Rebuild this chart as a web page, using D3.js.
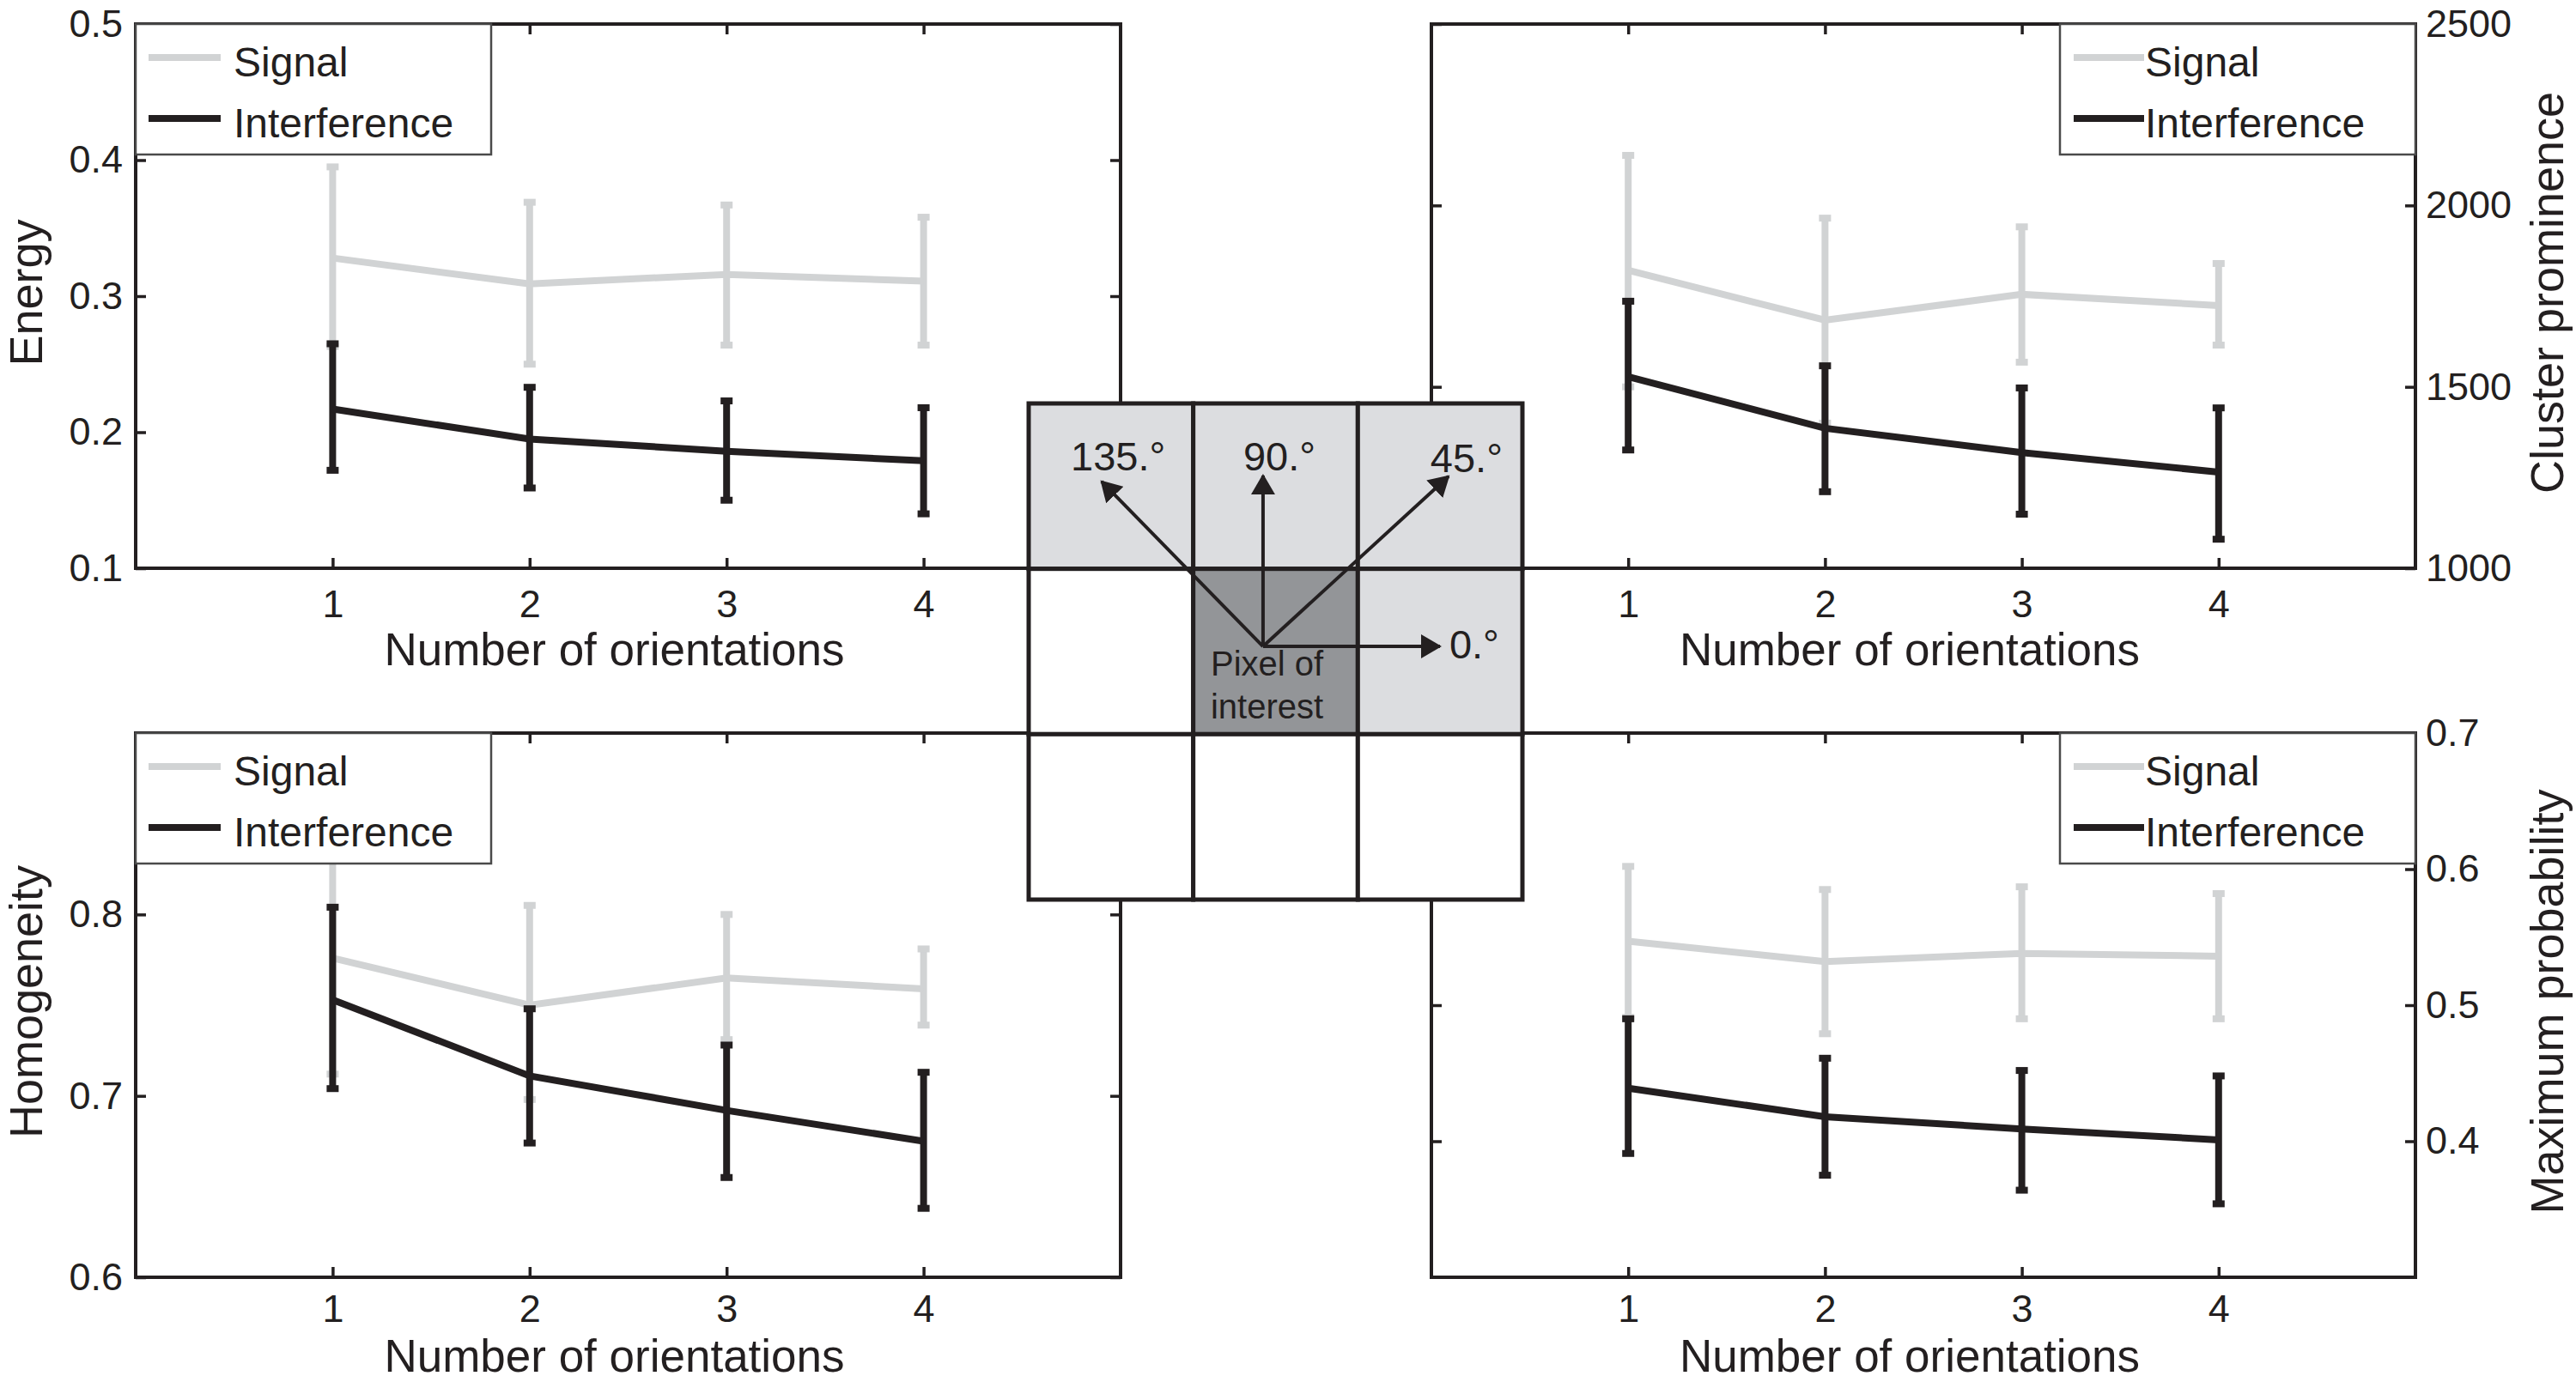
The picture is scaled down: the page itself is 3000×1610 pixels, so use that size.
<!DOCTYPE html>
<html>
<head>
<meta charset="utf-8">
<script src="https://cdn.jsdelivr.net/npm/d3@7"></script>
<style>
  body { margin: 0; background: #ffffff; }
  text { font-family: "Liberation Sans", Arial, Helvetica, sans-serif; }
</style>
</head>
<body>
<script>
// Number of orientations on every x axis
const orientations = [1, 2, 3, 4];
const xTicks = [1, 2, 3, 4];
const seriesNames = ['Signal', 'Interference'];

// Energy (top left)
const energySignal = [0.328, 0.309, 0.316, 0.311];
const energySignalLow = [0.263, 0.250, 0.264, 0.264];
const energySignalHigh = [0.395, 0.369, 0.367, 0.358];
const energyInterference = [0.217, 0.195, 0.186, 0.179];
const energyInterferenceLow = [0.172, 0.159, 0.150, 0.140];
const energyInterferenceHigh = [0.265, 0.233, 0.223, 0.218];
const energyTicks = [0.1, 0.2, 0.3, 0.4, 0.5];

// Cluster prominence (top right)
const prominenceSignal = [1821, 1684, 1755, 1724];
const prominenceSignalLow = [1500, 1400, 1568, 1615];
const prominenceSignalHigh = [2138, 1965, 1941, 1840];
const prominenceInterference = [1528, 1386, 1319, 1265];
const prominenceInterferenceLow = [1326, 1211, 1149, 1080];
const prominenceInterferenceHigh = [1736, 1558, 1497, 1442];
const prominenceTicks = [1000, 1500, 2000, 2500];

// Homogeneity (bottom left)
const homogeneitySignal = [0.776, 0.750, 0.765, 0.759];
const homogeneitySignalLow = [0.712, 0.698, 0.731, 0.739];
const homogeneitySignalHigh = [0.840, 0.805, 0.800, 0.781];
const homogeneityInterference = [0.753, 0.711, 0.692, 0.675];
const homogeneityInterferenceLow = [0.704, 0.674, 0.655, 0.638];
const homogeneityInterferenceHigh = [0.804, 0.748, 0.728, 0.713];
const homogeneityTicks = [0.6, 0.7, 0.8];

// Maximum probability (bottom right)
const probabilitySignal = [0.547, 0.532, 0.538, 0.536];
const probabilitySignalLow = [0.491, 0.479, 0.490, 0.490];
const probabilitySignalHigh = [0.602, 0.585, 0.587, 0.582];
const probabilityInterference = [0.439, 0.418, 0.409, 0.401];
const probabilityInterferenceLow = [0.391, 0.375, 0.364, 0.354];
const probabilityInterferenceHigh = [0.490, 0.461, 0.452, 0.448];
const probabilityTicks = [0.4, 0.5, 0.6, 0.7];

// Co-occurrence diagram in the middle
const angleLabels = ['0.°', '45.°', '90.°', '135.°'];
const cellShades = [
    ['light', 'light', 'light'],
    ['white', 'dark', 'light'],
    ['white', 'white', 'white']
];
const centreLabel = ['Pixel of', 'interest'];

// Colours
const signalColour = '#d1d3d4';
const interferenceColour = '#231f20';
const ink = '#231f20';
const shadeColours = { light: '#dcdde0', dark: '#939598', white: '#ffffff' };

const svg = d3.select('body')
    .append('svg')
    .attr('width', 3000)
    .attr('height', 1610);

svg.append('rect')
    .attr('width', 3000)
    .attr('height', 1610)
    .attr('fill', '#ffffff');

// Panel layout
const panels = [
    { label: 'Energy', side: 'left', left: 158, right: 1305, top: 28, bottom: 662, tickPad: 25, titleGap: 113,
      domain: [0.1, 0.5], ticks: energyTicks, format: d3.format('.1f'),
      signal: [energySignal, energySignalLow, energySignalHigh],
      interference: [energyInterference, energyInterferenceLow, energyInterferenceHigh] },
    { label: 'Cluster prominence', side: 'right', left: 1667, right: 2813, top: 28, bottom: 662, tickPad: 25, titleGap: 113,
      domain: [1000, 2500], ticks: prominenceTicks, format: d3.format('d'),
      signal: [prominenceSignal, prominenceSignalLow, prominenceSignalHigh],
      interference: [prominenceInterference, prominenceInterferenceLow, prominenceInterferenceHigh] },
    { label: 'Homogeneity', side: 'left', left: 158, right: 1305, top: 854, bottom: 1488, tickPad: 20, titleGap: 110,
      domain: [0.6, 0.9], ticks: homogeneityTicks, format: d3.format('.1f'),
      signal: [homogeneitySignal, homogeneitySignalLow, homogeneitySignalHigh],
      interference: [homogeneityInterference, homogeneityInterferenceLow, homogeneityInterferenceHigh] },
    { label: 'Maximum probability', side: 'right', left: 1667, right: 2813, top: 854, bottom: 1488, tickPad: 20, titleGap: 110,
      domain: [0.3, 0.7], ticks: probabilityTicks, format: d3.format('.1f'),
      signal: [probabilitySignal, probabilitySignalLow, probabilitySignalHigh],
      interference: [probabilityInterference, probabilityInterferenceLow, probabilityInterferenceHigh] }
];

function styleAxis(axisG) {
    axisG.select('.domain').remove();
    axisG.attr('font-family', '"Liberation Sans", Arial, sans-serif')
        .attr('font-size', 45)
        .attr('color', ink);
    axisG.selectAll('.tick line').attr('stroke-width', 3.5);
}

function drawSeries(g, x, y, values, colour) {
    const [mean, low, high] = values;
    const points = orientations.map((o, i) => ({ o, mean: mean[i], low: low[i], high: high[i] }));

    // Error bars
    g.selectAll(null)
        .data(points)
        .enter()
        .append('line')
        .attr('x1', d => x(d.o))
        .attr('x2', d => x(d.o))
        .attr('y1', d => y(d.low))
        .attr('y2', d => y(d.high))
        .attr('stroke', colour)
        .attr('stroke-width', 8);

    const caps = points.flatMap(d => [{ o: d.o, v: d.low }, { o: d.o, v: d.high }]);
    g.selectAll(null)
        .data(caps)
        .enter()
        .append('rect')
        .attr('x', d => x(d.o) - 7)
        .attr('y', d => y(d.v) - 4)
        .attr('width', 14)
        .attr('height', 8)
        .attr('fill', colour);

    // Mean line
    g.append('path')
        .datum(points)
        .attr('fill', 'none')
        .attr('stroke', colour)
        .attr('stroke-width', 8)
        .attr('d', d3.line().x(d => x(d.o)).y(d => y(d.mean)));
}

function drawPanel(p) {
    const g = svg.append('g');
    const x = d3.scaleLinear().domain([0, 5]).range([p.left, p.right]);
    const y = d3.scaleLinear().domain(p.domain).range([p.bottom, p.top]);

    // Series first, frame and ticks above them
    drawSeries(g, x, y, p.signal, signalColour);
    drawSeries(g, x, y, p.interference, interferenceColour);

    g.append('rect')
        .attr('x', p.left)
        .attr('y', p.top)
        .attr('width', p.right - p.left)
        .attr('height', p.bottom - p.top)
        .attr('fill', 'none')
        .attr('stroke', ink)
        .attr('stroke-width', 4);

    // Box ticks pointing inwards on all four sides
    const bottomAxis = g.append('g')
        .attr('transform', `translate(0,${p.bottom})`)
        .call(d3.axisBottom(x).tickValues(xTicks).tickFormat(d3.format('d'))
            .tickSizeInner(-12).tickSizeOuter(0).tickPadding(p.tickPad));
    styleAxis(bottomAxis);

    const topAxis = g.append('g')
        .attr('transform', `translate(0,${p.top})`)
        .call(d3.axisTop(x).tickValues(xTicks).tickSizeInner(-12).tickSizeOuter(0).tickFormat(''));
    styleAxis(topAxis);

    const leftAxis = g.append('g')
        .attr('transform', `translate(${p.left},0)`)
        .call(d3.axisLeft(y).tickValues(p.ticks).tickSizeInner(-12).tickSizeOuter(0).tickPadding(15)
            .tickFormat(p.side === 'left' ? p.format : ''));
    styleAxis(leftAxis);

    const rightAxis = g.append('g')
        .attr('transform', `translate(${p.right},0)`)
        .call(d3.axisRight(y).tickValues(p.ticks).tickSizeInner(-12).tickSizeOuter(0).tickPadding(12)
            .tickFormat(p.side === 'right' ? p.format : ''));
    styleAxis(rightAxis);

    // Axis titles
    g.append('text')
        .attr('x', (p.left + p.right) / 2 - 16)
        .attr('y', p.bottom + p.titleGap)
        .attr('text-anchor', 'middle')
        .attr('font-size', 53)
        .attr('fill', ink)
        .text('Number of orientations');

    const labelX = p.side === 'left' ? 49 : 2985;
    g.append('text')
        .attr('transform', `translate(${labelX},${(p.top + p.bottom) / 2 - 4}) rotate(-90)`)
        .attr('text-anchor', 'middle')
        .attr('font-size', 54)
        .attr('fill', ink)
        .text(p.label);

    // Legend box in the corner next to the value axis
    const legendW = 414, legendH = 152;
    const lx = p.side === 'left' ? p.left : p.right - legendW;
    const legend = g.append('g');
    legend.append('rect')
        .attr('x', lx)
        .attr('y', p.top)
        .attr('width', legendW)
        .attr('height', legendH)
        .attr('fill', '#ffffff')
        .attr('stroke', '#4a4a4a')
        .attr('stroke-width', 2.5);

    const lineStart = p.side === 'left' ? 15 : 16;
    const lineEnd = p.side === 'left' ? 99 : 98;
    const textStart = p.side === 'left' ? 114 : 99;
    seriesNames.forEach((name, i) => {
        const ly = p.top + 39 + i * 71;
        legend.append('line')
            .attr('x1', lx + lineStart)
            .attr('x2', lx + lineEnd)
            .attr('y1', ly)
            .attr('y2', ly)
            .attr('stroke', i === 0 ? signalColour : interferenceColour)
            .attr('stroke-width', 8);
        legend.append('text')
            .attr('x', lx + textStart)
            .attr('y', ly + 22)
            .attr('font-size', 48)
            .attr('fill', ink)
            .text(name);
    });
}

panels.forEach(drawPanel);

// ---- Co-occurrence diagram ----
const gx = d3.scaleLinear().domain([0, 3]).range([1198, 1773]);
const gy = d3.scaleLinear().domain([0, 3]).range([470, 1048]);
const diagram = svg.append('g');

const cells = cellShades.flatMap((row, r) => row.map((shade, c) => ({ r, c, shade })));
diagram.selectAll(null)
    .data(cells)
    .enter()
    .append('rect')
    .attr('x', d => gx(d.c))
    .attr('y', d => gy(d.r))
    .attr('width', d => gx(d.c + 1) - gx(d.c))
    .attr('height', d => gy(d.r + 1) - gy(d.r))
    .attr('fill', d => shadeColours[d.shade])
    .attr('stroke', ink)
    .attr('stroke-width', 5);

svg.append('defs')
    .append('marker')
    .attr('id', 'head')
    .attr('markerUnits', 'userSpaceOnUse')
    .attr('viewBox', '0 0 24 28')
    .attr('markerWidth', 24)
    .attr('markerHeight', 28)
    .attr('refX', 22)
    .attr('refY', 14)
    .attr('orient', 'auto')
    .append('path')
    .attr('d', 'M0,0 L24,14 L0,28 Z')
    .attr('fill', ink);

// Arrow geometry in cell units (origin inside the pixel of interest)
const arrowOrigin = { c: 1.424, r: 1.469 };
const arrowTips = [
    { c: 2.499, r: 1.469 },
    { c: 2.551, r: 0.441 },
    { c: 1.424, r: 0.436 },
    { c: 0.443, r: 0.472 }
];
const labelSpots = [
    { c: 2.556, r: 1.541 },
    { c: 2.441, r: 0.415 },
    { c: 1.304, r: 0.405 },
    { c: 0.256, r: 0.405 }
];

diagram.selectAll(null)
    .data(arrowTips)
    .enter()
    .append('line')
    .attr('x1', gx(arrowOrigin.c))
    .attr('y1', gy(arrowOrigin.r))
    .attr('x2', d => gx(d.c))
    .attr('y2', d => gy(d.r))
    .attr('stroke', ink)
    .attr('stroke-width', 4)
    .attr('marker-end', 'url(#head)');

diagram.selectAll(null)
    .data(angleLabels)
    .enter()
    .append('text')
    .attr('x', (d, i) => gx(labelSpots[i].c))
    .attr('y', (d, i) => gy(labelSpots[i].r))
    .attr('font-size', 47)
    .attr('fill', ink)
    .text(d => d);

diagram.selectAll(null)
    .data(centreLabel)
    .enter()
    .append('text')
    .attr('x', gx(1.106))
    .attr('y', (d, i) => gy(1.645 + i * 0.26))
    .attr('font-size', 40)
    .attr('fill', ink)
    .text(d => d);
</script>
</body>
</html>
